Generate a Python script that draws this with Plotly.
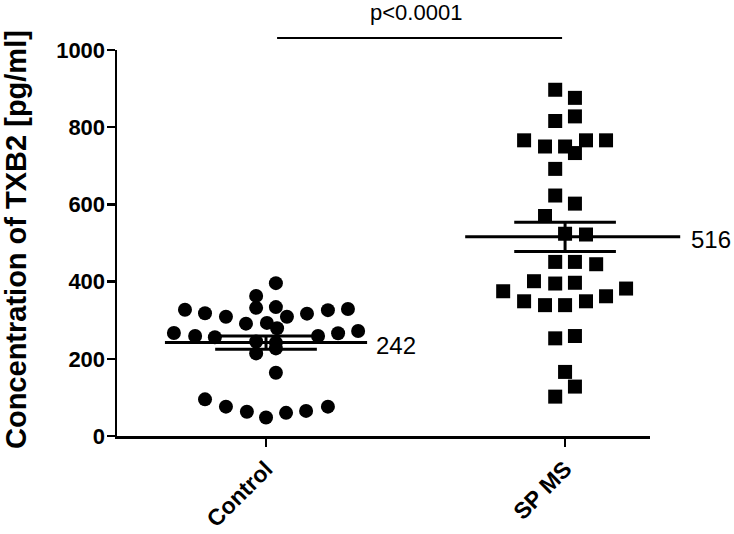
import plotly.graph_objects as go

# ---- data ----
categories = ["Control", "SP MS"]
tick_values = [0, 200, 400, 600, 800, 1000]

control_values = [396, 363, 327, 318, 309, 332, 334, 309, 317, 326, 329,
                  267, 259, 256, 291, 293, 279, 259, 266, 272,
                  214, 227, 164, 95, 76, 63, 48, 60, 65, 76, 245, 242]
# horizontal scatter offsets (in category units) of each control point
control_offsets = [0.033, -0.033, -0.271, -0.204, -0.134, -0.033, 0.033, 0.070, 0.137, 0.207, 0.274,
                   -0.308, -0.237, -0.171, -0.067, 0.003, 0.037, 0.174, 0.241, 0.308,
                   -0.033, 0.033, 0.033, -0.204, -0.134, -0.064, 0.000, 0.067, 0.134, 0.207, -0.033, 0.033]

spms_values = [897, 876, 816, 828, 766, 750, 750, 733, 766, 766, 692, 623, 602, 570, 524, 522,
               451, 451, 445, 401, 395, 397, 375, 349, 339, 339, 349, 362, 382, 253, 259, 166, 128, 102]
spms_offsets = [-0.033, 0.033, -0.033, 0.033, -0.137, -0.067, 0.000, 0.033, 0.070, 0.137,
                -0.033, -0.033, 0.033, -0.067, 0.000, 0.070,
                -0.033, 0.033, 0.104, -0.104, -0.033, 0.033, -0.207, -0.137, -0.067, 0.000,
                0.070, 0.137, 0.204, -0.033, 0.033, 0.000, 0.033, -0.033]

means = [242, 516]
sems = [17, 38]
mean_labels = ["242", "516"]
p_text = "p<0.0001"

# ---- layout constants ----
W, H = 734, 534
PL, PR, PT, PB = 117, 650, 50, 436      # plot box in pixels
ML, MT = PL, PT
MR, MB = W - PR, H - PB
PW, PH = PR - PL, PB - PT
XR = [0.5017, 2.284]
YR = [0, 1000]

def xp(xd):
    return (xd - XR[0]) / (XR[1] - XR[0])

FONT = "Arial, Liberation Sans, sans-serif"

fig = go.Figure()
fig.add_trace(go.Scatter(
    x=[1 + o for o in control_offsets], y=control_values, mode="markers",
    marker=dict(symbol="circle", size=14, color="black"), cliponaxis=False, showlegend=False,
    hoverinfo="skip"))
fig.add_trace(go.Scatter(
    x=[2 + o for o in spms_offsets], y=spms_values, mode="markers",
    marker=dict(symbol="square", size=14, color="black"), cliponaxis=False, showlegend=False,
    hoverinfo="skip"))

shapes = []
mean_half = [(0.338, 0.338), (0.334, 0.385)]
sem_half = 0.17
for i, (m, s) in enumerate(zip(means, sems)):
    c = i + 1
    lo, hi = mean_half[i]
    shapes.append(dict(type="line", xref="paper", yref="y", x0=xp(c - lo), x1=xp(c + hi),
                       y0=m, y1=m, line=dict(color="black", width=3)))
    for yy in (m - s, m + s):
        shapes.append(dict(type="line", xref="paper", yref="y", x0=xp(c - sem_half), x1=xp(c + sem_half),
                           y0=yy, y1=yy, line=dict(color="black", width=3)))
    shapes.append(dict(type="line", xref="paper", yref="y", x0=xp(c), x1=xp(c),
                       y0=m - s, y1=m + s, line=dict(color="black", width=3)))

# significance bar
shapes.append(dict(type="line", xref="paper", yref="paper", x0=xp(1.037), x1=xp(1.99),
                   y0=1 + 12 / PH, y1=1 + 12 / PH, line=dict(color="black", width=2)))

annotations = [
    dict(xref="paper", yref="y", x=xp(1 + mean_half[0][1]), y=means[0], text=mean_labels[0],
         showarrow=False, xanchor="left", yanchor="middle", xshift=7, yshift=-3,
         font=dict(family=FONT, size=24, color="black")),
    dict(xref="paper", yref="y", x=(733 - PL) / PW, y=means[1], text=mean_labels[1],
         showarrow=False, xanchor="right", yanchor="middle", yshift=-3,
         font=dict(family=FONT, size=24, color="black")),
    dict(xref="paper", yref="paper", x=xp(1.5), y=1 + 38 / PH, text=p_text,
         showarrow=False, xanchor="center", yanchor="middle",
         font=dict(family=FONT, size=22, color="black")),
    dict(xref="paper", yref="paper", x=(16 - PL) / PW, y=(PB - 240) / PH,
         text="Concentration of TXB2 [pg/ml]", textangle=-90, showarrow=False,
         xanchor="center", yanchor="middle",
         font=dict(family=FONT, size=29, color="black", weight="bold")),
]

fig.update_layout(
    width=W, height=H, margin=dict(l=ML, r=MR, t=MT, b=MB, autoexpand=False),
    paper_bgcolor="white", plot_bgcolor="white",
    shapes=shapes, annotations=annotations, showlegend=False, hovermode=False,
    xaxis=dict(range=XR, tickvals=[1, 2], ticktext=categories, tickangle=-45, automargin=False,
               ticks="outside", ticklen=8, tickwidth=2.5, tickcolor="black",
               showline=True, linewidth=2.5, linecolor="black", showgrid=False, zeroline=False,
               tickfont=dict(family=FONT, size=23, color="black", weight="bold")),
    yaxis=dict(range=YR, tickvals=tick_values, ticks="outside", ticklen=8, tickwidth=2.5,
               tickcolor="black", showline=True, linewidth=2.5, linecolor="black",
               showgrid=False, zeroline=False, automargin=False, ticklabelstandoff=-3,
               tickfont=dict(family=FONT, size=22, color="black", weight="bold")),
)

fig.write_html("out.html", config={"displayModeBar": False, "staticPlot": True},
               post_script="document.body.style.margin='0px';document.body.style.padding='0px';"
                           "document.documentElement.style.overflow='hidden';")
